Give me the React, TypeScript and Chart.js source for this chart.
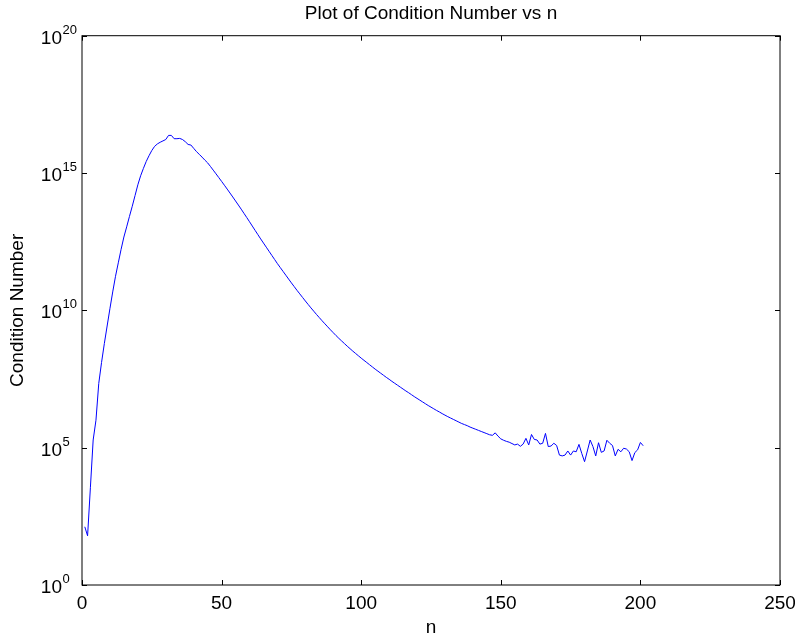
import React, { useEffect, useRef } from "react";
import { Chart, registerables } from "chart.js";

Chart.register(...registerables);

// n = 1 .. 201
const nValues: number[] = Array.from({ length: 201 }, (_, i) => i + 1);

// log10 of the condition number (n = 1 .. 201)
const log10Cond: number[] = [
  2.12, 1.79, 3.54, 5.28, 6.0, 7.34, 8.1, 8.79, 9.43, 10.06,
  10.67, 11.24, 11.73, 12.22, 12.67, 13.04, 13.42, 13.79, 14.18, 14.57,
  14.9, 15.17, 15.42, 15.63, 15.82, 15.97, 16.06, 16.12, 16.17, 16.22,
  16.37, 16.37, 16.25, 16.25, 16.26, 16.22, 16.14, 16.04, 16.02, 15.9,
  15.78, 15.68, 15.58, 15.47, 15.37, 15.24, 15.105, 14.97, 14.833, 14.695,
  14.556, 14.415, 14.272, 14.128, 13.982, 13.835, 13.686, 13.534, 13.381, 13.226,
  13.07, 12.913, 12.756, 12.6, 12.45, 12.3, 12.15, 12.0, 11.85, 11.7,
  11.56, 11.42, 11.28, 11.14, 11.0, 10.865, 10.73, 10.6, 10.47, 10.34,
  10.215, 10.09, 9.97, 9.85, 9.735, 9.62, 9.51, 9.4, 9.29, 9.185,
  9.08, 8.98, 8.885, 8.79, 8.695, 8.605, 8.515, 8.43, 8.345, 8.26,
  8.18, 8.1, 8.02, 7.94, 7.86, 7.785, 7.71, 7.635, 7.56, 7.49,
  7.415, 7.345, 7.275, 7.205, 7.135, 7.065, 7.0, 6.93, 6.86, 6.795,
  6.73, 6.665, 6.6, 6.535, 6.475, 6.415, 6.355, 6.3, 6.24, 6.185,
  6.13, 6.08, 6.03, 5.98, 5.93, 5.88, 5.84, 5.8, 5.75, 5.71,
  5.67, 5.63, 5.59, 5.55, 5.51, 5.47, 5.45, 5.54, 5.42, 5.32,
  5.27, 5.23, 5.2, 5.15, 5.1, 5.13, 5.05, 5.13, 5.34, 5.1,
  5.48, 5.3, 5.28, 5.13, 5.16, 5.52, 5.04, 5.06, 5.16, 5.08,
  4.73, 4.7, 4.73, 4.88, 4.73, 4.88, 4.85, 5.12, 4.79, 4.49,
  4.88, 5.28, 5.04, 4.7, 5.18, 4.83, 4.88, 5.27, 5.16, 5.08,
  4.7, 4.94, 4.85, 4.98, 4.95, 4.85, 4.53, 4.82, 4.92, 5.19,
  5.07,
];

const xTicks: number[] = [0, 50, 100, 150, 200, 250];
const yTickExponents: number[] = [0, 5, 10, 15, 20];

const FONT = "'Liberation Sans', Arial, Helvetica, sans-serif";

const framePlugin = {
  id: "matlabFrame",
  afterDraw(chart: any) {
    const { ctx, chartArea } = chart;
    const { left, right, top, bottom } = chartArea;
    const xs = chart.scales.x;
    const ys = chart.scales.y;
    ctx.save();
    ctx.strokeStyle = "#000";
    ctx.lineWidth = 1;
    ctx.strokeRect(left, top, right - left, bottom - top);
    const tl = 5;
    ctx.beginPath();
    xTicks.forEach((v) => {
      const px = Math.round(xs.getPixelForValue(v)) + 0.5;
      ctx.moveTo(px, bottom);
      ctx.lineTo(px, bottom - tl);
      ctx.moveTo(px, top);
      ctx.lineTo(px, top + tl);
    });
    yTickExponents.forEach((e) => {
      const py = Math.round(ys.getPixelForValue(Math.pow(10, e))) + 0.5;
      ctx.moveTo(left, py);
      ctx.lineTo(left + tl, py);
      ctx.moveTo(right, py);
      ctx.lineTo(right - tl, py);
    });
    ctx.stroke();

    ctx.fillStyle = "#000";
    yTickExponents.forEach((e) => {
      const py = ys.getPixelForValue(Math.pow(10, e));
      ctx.font = `19px ${FONT}`;
      ctx.textAlign = "right";
      ctx.textBaseline = "alphabetic";
      ctx.fillText("10", left - 20, py + 8);
      ctx.font = `13px ${FONT}`;
      ctx.textAlign = "left";
      ctx.fillText(String(e), left - 19.5, py - 2);
    });
    ctx.restore();
  },
};

export default function App() {
  const canvasRef = useRef<HTMLCanvasElement | null>(null);

  useEffect(() => {
    document.body.style.margin = "0";
    const canvas = canvasRef.current;
    if (!canvas) return;
    const chart = new Chart(canvas, {
      type: "line",
      data: {
        datasets: [
          {
            label: "Condition Number",
            data: nValues.map((n, i) => ({ x: n, y: Math.pow(10, log10Cond[i]) })),
            borderColor: "#0000ff",
            backgroundColor: "#0000ff",
            borderWidth: 1,
            pointRadius: 0,
            tension: 0,
            fill: false,
          },
        ],
      },
      options: {
        responsive: false,
        animation: false,
        events: [],
        layout: { padding: { left: 0, right: 15, top: 0, bottom: 0 } },
        plugins: {
          legend: { display: false },
          tooltip: { enabled: false },
          title: {
            display: true,
            text: "Plot of Condition Number vs n",
            color: "#000",
            fullSize: false,
            font: { family: FONT, size: 19, weight: "normal" },
            padding: { top: 2.5, bottom: 10.4 },
          },
        },
        scales: {
          x: {
            type: "linear",
            min: 0,
            max: 250,
            afterBuildTicks: (s: any) => {
              s.ticks = xTicks.map((v) => ({ value: v }));
            },
            afterFit: (s: any) => {
              s.height = 56;
              s.paddingLeft = 0;
              s.paddingRight = 0;
            },
            grid: { display: false, drawTicks: false },
            border: { display: false },
            ticks: {
              color: "#000",
              padding: 7,
              maxRotation: 0,
              font: { family: FONT, size: 19 },
            },
            title: {
              display: true,
              text: "n",
              color: "#000",
              font: { family: FONT, size: 19 },
              padding: { top: 0, bottom: 2 },
            },
          },
          y: {
            type: "logarithmic",
            min: 1,
            max: 1e20,
            afterBuildTicks: (s: any) => {
              s.ticks = yTickExponents.map((e) => ({ value: Math.pow(10, e) }));
            },
            afterFit: (s: any) => {
              s.width = 82;
              s.paddingTop = 0;
              s.paddingBottom = 0;
            },
            grid: { display: false, drawTicks: false },
            border: { display: false },
            ticks: { display: false },
            title: {
              display: true,
              text: "Condition Number",
              color: "#000",
              font: { family: FONT, size: 19 },
              padding: { top: 6, bottom: 0 },
            },
          },
        },
      },
      plugins: [framePlugin],
    });
    return () => chart.destroy();
  }, []);

  return (
    <div style={{ width: 795, height: 641, background: "#fff" }}>
      <canvas ref={canvasRef} width={795} height={641} style={{ display: "block" }} />
    </div>
  );
}
